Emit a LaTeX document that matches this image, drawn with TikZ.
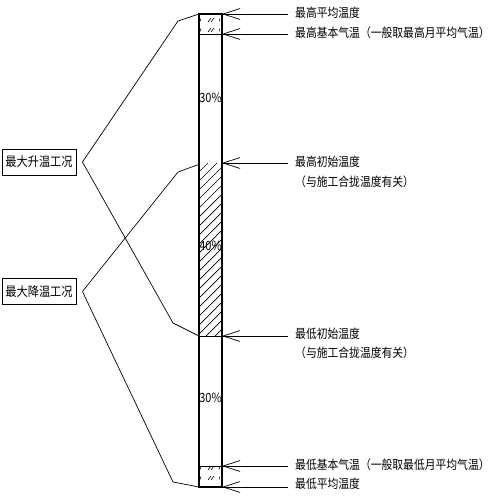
\documentclass[tikz,border=0pt]{standalone}
\usepackage{fontspec}
\setmainfont{Noto Sans CJK SC}
\usetikzlibrary{arrows.meta}
\newcommand{\tallt}[1]{\scalebox{1}[1.15]{#1}}
\begin{document}
\begin{tikzpicture}[x=1pt,y=-1pt,
  barline/.style={line width=2.2pt},
  thinline/.style={line width=0.7pt},
  lead/.style={line width=0.7pt},
  ptr/.style={line width=0.7pt,{Straight Barb[length=17pt,width=11pt]}-},
  lbl/.style={anchor=west,inner sep=0pt,font=\fontsize{10.8}{12}\selectfont},
  casebox/.style={draw,line width=0.9pt,minimum width=74pt,minimum height=26pt,inner sep=0pt,font=\fontsize{11.2}{13}\selectfont},
  pct/.style={inner sep=0pt,font=\fontsize{11}{12}\selectfont},
  tick/.style={line width=0.6pt}]
\useasboundingbox (0,0) rectangle (500,500);

% hatching of the 40% zone
\begin{scope}
  \clip (199,163) rectangle (222,336);
  \foreach \k in {0,...,22} \draw[thinline] (199,163+\k*9) -- ++(23,-23);
\end{scope}

% sparse marks in top and bottom cells
\foreach \yy in {20,30,468,478}{
  \draw[tick] (200,\yy+1.5) -- (201,\yy-1.5);
  \draw[tick] (208,\yy+2) -- (211,\yy-2);
  \draw[tick] (211,\yy+2) -- (214,\yy-2);
  \draw[tick] (219,\yy+1.5) -- (220,\yy-1.5);
}

% internal lines
\draw[thinline] (199,34) -- (222,34);
\draw[thinline] (199,336) -- (222,336);
\draw[thinline] (199,466) -- (222,466);

% bar
\node[draw,barline,outer sep=0pt,inner sep=0pt,minimum width=23pt,minimum height=473pt] (bar) at (210.5,250.5) {};

% percentages
\node[pct] (p1) at (210.5,98) {\tallt{30\%}};
\node[pct] (p2) at (210.5,246) {\tallt{40\%}};
\node[pct] (p3) at (210.5,398) {\tallt{30\%}};

% bar reference points (right edge)
\coordinate (r1) at (222,14);
\coordinate (r2) at (222,34);
\coordinate (r3) at (222,163);
\coordinate (r4) at (222,336);
\coordinate (r5) at (222,466);
\coordinate (r6) at (222,487);
% left edge points
\coordinate (l1) at (199,14);
\coordinate (l3) at (200,164);
\coordinate (l4) at (199,336);
\coordinate (l6) at (199,487);

% right labels
\node[lbl] (t1) at (295,13) {\tallt{最高平均温度}};
\node[lbl] (t2) at (295,33) {\tallt{最高基本气温（一般取最高月平均气温）}};
\node[lbl] (t3) at (295,162) {\tallt{最高初始温度}};
\node[lbl] (t3b) at (295,182) {\tallt{（与施工合拢温度有关）}};
\node[lbl] (t4) at (295,334) {\tallt{最低初始温度}};
\node[lbl] (t4b) at (295,353) {\tallt{（与施工合拢温度有关）}};
\node[lbl] (t5) at (295,465) {\tallt{最低基本气温（一般取最低月平均气温）}};
\node[lbl] (t6) at (295,484) {\tallt{最低平均温度}};

\draw[ptr] (r1) -- (288,14) coordinate (e1);
\draw[ptr] (r2) -- (288,34) coordinate (e2);
\draw[ptr] (r3) -- (288,163) coordinate (e3);
\draw[ptr] (r4) -- (288,336) coordinate (e4);
\draw[ptr] (r5) -- (288,466) coordinate (e5);
\draw[ptr] (r6) -- (288,487) coordinate (e6);

% case boxes
\node[casebox] (up) at (39,162) {\tallt{最大升温工况}};
\node[casebox] (dn) at (39,291.5) {\tallt{最大降温工况}};
\coordinate (a1) at ([xshift=6pt]up.east);
\coordinate (a2) at ([xshift=6pt]dn.east);

\draw[lead] (a1) -- (178,21) -- (l1);
\draw[lead] (a1) -- (173,323) -- (l4);
\draw[lead] (a2) -- (178,172) -- (l3);
\draw[lead] (a2) -- (173,482) -- (l6);
\end{tikzpicture}
\end{document}
